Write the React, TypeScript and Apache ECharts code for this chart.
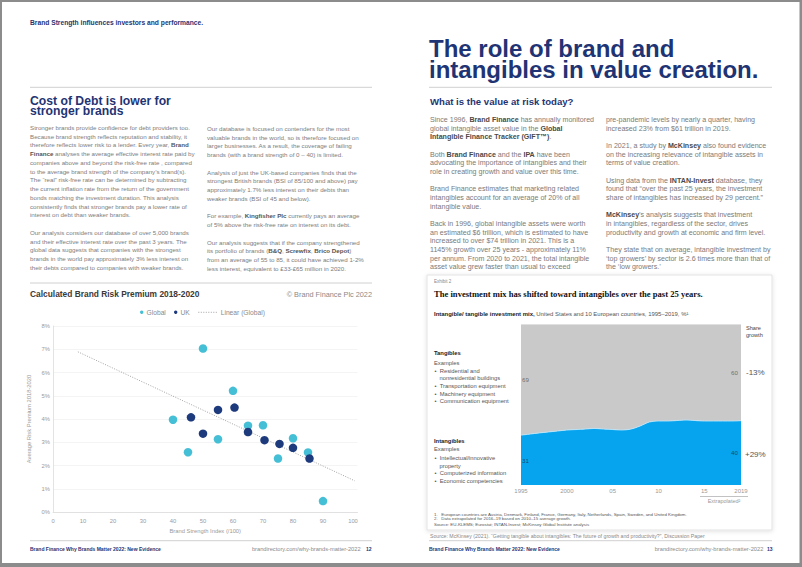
import React, { useEffect, useRef } from 'react';
import * as echarts from 'echarts';

const NAVY = '#1f3474';
const FONT = '"Liberation Sans", Arial, Helvetica, sans-serif';
const SERIF = '"Liberation Serif", "Times New Roman", serif';

// ---------- Scatter chart data (Calculated Brand Risk Premium 2018-2020) ----------
const globalPoints: number[][] = [
  [40, 3.97], [45, 2.57], [50, 7.03], [55, 3.13], [60, 5.21], [65, 3.71],
  [70, 3.73], [75, 2.3], [80, 3.17], [85, 2.56], [90, 0.47],
];
const ukPoints: number[][] = [
  [46, 4.07], [50, 3.37], [55, 4.39], [60.5, 4.49], [65, 3.44],
  [70.5, 3.09], [75.5, 2.93], [80, 2.76], [85.5, 2.3],
];
const trendEnds: number[][] = [[8.3, 6.89], [100.6, 1.34]];

// ---------- Area chart data (investment mix) ----------
const years = ['1995','1996','1997','1998','1999','2000','2001','2002','2003','2004','2005','2006','2007','2008','2009','2010','2011','2012','2013','2014','2015','2016','2017','2018','2019'];
const intangibleShare = [31, 31.7, 32.4, 33, 33.6, 34.2, 34.5, 34.8, 35.2, 34.8, 34.5, 34.2, 34.8, 36.7, 39.2, 39.8, 39.8, 40.1, 40.4, 40.1, 39.8, 39.8, 39.8, 39.8, 40];
const tangibleShare = [69, 68.3, 67.6, 67, 66.4, 65.8, 65.5, 65.2, 64.8, 65.2, 65.5, 65.8, 65.2, 63.3, 60.8, 60.2, 60.2, 59.9, 59.6, 59.9, 60.2, 60.2, 60.2, 60.2, 60];
const yearTickLabels: Record<string, string> = { '1995': '1995', '2000': '2000', '2005': '05', '2010': '10', '2015': '15', '2019': '2019' };
const endLabels = { tangibleStart: '69', tangibleEnd: '60', intangibleStart: '31', intangibleEnd: '40' };

// ---------- Text ----------
const leftCol1 = [
  'Stronger brands provide confidence for debt providers too.',
  'Because brand strength reflects reputation and stability, it',
  'therefore reflects lower risk to a lender. Every year, **Brand**',
  '**Finance** analyses the average effective interest rate paid by',
  'companies above and beyond the risk-free rate , compared',
  'to the average brand strength of the company’s brand(s).',
  'The “real” risk-free rate can be determined by subtracting',
  'the current inflation rate from the return of the government',
  'bonds matching the investment duration. This analysis',
  'consistently finds that stronger brands pay a lower rate of',
  'interest on debt than weaker brands.',
  '',
  'Our analysis considers our database of over 5,000 brands',
  'and their effective interest rate over the past 3 years. The',
  'global data suggests that companies with the strongest',
  'brands in the world pay approximately 3% less interest on',
  'their debts compared to companies with weaker brands.',
];
const leftCol2 = [
  'Our database is focused on contenders for the most',
  'valuable brands in the world, so is therefore focused on',
  'larger businesses. As a result, the coverage of failing',
  'brands (with a brand strength of 0 – 40) is limited.',
  '',
  'Analysis of just the UK-based companies finds that the',
  'strongest British brands (BSI of 85/100 and above) pay',
  'approximately 1.7% less interest on their debts than',
  'weaker brands (BSI of 45 and below).',
  '',
  'For example, **Kingfisher Plc** currently pays an average',
  'of 5% above the risk-free rate on interest on its debt.',
  '',
  'Our analysis suggests that if the company strengthened',
  'its portfolio of brands (**B&Q**, **Screwfix**, **Brico Depot**)',
  'from an average of 55 to 85, it could have achieved 1-2%',
  'less interest, equivalent to £33-£65 million in 2020.',
];
const rightCol1 = [
  'Since 1996, **Brand Finance** has annually monitored',
  'global intangible asset value in the **Global**',
  '**Intangible Finance Tracker (GIFT™)**.',
  '',
  'Both **Brand Finance** and the **IPA** have been',
  'advocating the importance of intangibles and their',
  'role in creating growth and value over this time.',
  '',
  'Brand Finance estimates that marketing related',
  'intangibles account for an average of 20% of all',
  'intangible value.',
  '',
  'Back in 1996, global intangible assets were worth',
  'an estimated $6 trillion, which is estimated to have',
  'increased to over $74 trillion in 2021. This is a',
  '1145% growth over 25 years - approximately 11%',
  'per annum. From 2020 to 2021, the total intangible',
  'asset value grew faster than usual to exceed',
];
const rightCol2 = [
  'pre-pandemic levels by nearly a quarter, having',
  'increased 23% from $61 trillion in 2019.',
  '',
  'In 2021, a study by **McKinsey** also found evidence',
  'on the increasing relevance of intangible assets in',
  'terms of value creation.',
  '',
  'Using data from the **INTAN-Invest** database, they',
  'found that “over the past 25 years, the investment',
  'share of intangibles has increased by 29 percent.”',
  '',
  '**McKinsey**’s analysis suggests that investment',
  'in intangibles, regardless of the sector, drives',
  'productivity and growth at economic and firm level.',
  '',
  'They state that on average, intangible investment by',
  '‘top growers’ by sector is 2.6 times more than that of',
  'the ‘low growers.’',
];
const tangibleExamples = ['Residential and', '  nonresidential buildings', 'Transportation equipment', 'Machinery equipment', 'Communication equipment'];
const intangibleExamples = ['Intellectual/innovative', '  property', 'Computerized information', 'Economic competencies'];

function rich(line: string) {
  return line.split('**').map((p, i) => (p ? `{${i % 2 ? 'b' : 'n'}|${p}}` : '')).join('');
}

function txt(x: number, y: number, text: string, o: any = {}) {
  return {
    type: 'text', x, y, z: 10, silent: true,
    style: {
      text,
      fill: o.color || '#777',
      fontSize: o.size || 6,
      fontFamily: o.family || FONT,
      fontWeight: o.weight || 'normal',
      fontStyle: o.style || 'normal',
      align: o.align || 'left', textAlign: o.align || 'left',
      verticalAlign: 'middle', textVerticalAlign: 'middle',
    },
  };
}

function para(lines: string[], x: number, y0: number, step: number, size: number, color: string, bold: string) {
  const out: any[] = [];
  lines.forEach((l, i) => {
    if (!l) return;
    out.push({
      type: 'text', x, y: y0 + i * step, z: 10, silent: true,
      style: {
        text: rich(l),
        align: 'left', textAlign: 'left', verticalAlign: 'middle', textVerticalAlign: 'middle',
        fontSize: size, fontFamily: FONT, fill: color,
        rich: {
          n: { fontSize: size, fontFamily: FONT, fill: color, color },
          b: { fontSize: size, fontFamily: FONT, fontWeight: 'bold', fill: bold, color: bold },
        },
      },
    });
  });
  return out;
}

function hline(x1: number, x2: number, y: number, color = '#d0d0d0', w = 1) {
  return { type: 'line', z: 5, silent: true, shape: { x1, y1: y, x2, y2: y }, style: { stroke: color, lineWidth: w } };
}

export default function App() {
  const ref = useRef<HTMLDivElement>(null);
  useEffect(() => {
    if (!ref.current) return;
    const chart = echarts.init(ref.current, undefined, { renderer: 'svg' });

    const GLOBAL = '#45bfd6';
    const UK = '#1d3a7c';
    const BLUE = '#06a4ee';
    const GREY = '#c9c9c9';

    const graphics: any[] = [
      { type: 'rect', z: -20, silent: true, shape: { x: 2, y: 2, width: 797.5, height: 561 }, style: { fill: '#ffffff' } },
      // Left page header
      txt(30, 22.7, 'Brand Strength influences investors and performance.', { size: 6.7, weight: 'bold', color: NAVY }),
      hline(30, 372, 87.3),
      txt(30, 100.8, 'Cost of Debt is lower for', { size: 12.2, weight: 'bold', color: NAVY }),
      txt(30, 110.8, 'stronger brands', { size: 12.2, weight: 'bold', color: NAVY }),
      ...para(leftCol1, 30, 127.3, 8.75, 6.2, '#7d7d7d', '#555'),
      ...para(leftCol2, 207, 128.3, 8.75, 6.2, '#7d7d7d', '#555'),
      hline(30, 372, 283),
      txt(30, 294, 'Calculated Brand Risk Premium 2018-2020', { size: 8.4, weight: 'bold', color: '#3a3a3a' }),
      txt(372, 294, '© Brand Finance Plc 2022', { size: 7.3, color: '#8a8a8a', align: 'right' }),
      // Scatter legend
      { type: 'circle', z: 10, silent: true, shape: { cx: 141.7, cy: 312.3, r: 1.7 }, style: { fill: GLOBAL } },
      txt(146.5, 312.3, 'Global', { size: 6.7, color: '#8a8a8a' }),
      { type: 'circle', z: 10, silent: true, shape: { cx: 175.7, cy: 312.3, r: 1.7 }, style: { fill: UK } },
      txt(180.5, 312.3, 'UK', { size: 6.7, color: '#8a8a8a' }),
      { type: 'line', z: 10, silent: true, shape: { x1: 198.3, y1: 312.3, x2: 218.3, y2: 312.3 }, style: { stroke: '#999', lineWidth: 0.9, lineDash: [1, 1.5] } },
      txt(220.7, 312.3, 'Linear (Global)', { size: 6.7, color: '#8a8a8a' }),
      hline(30, 372, 540.7),
      txt(30, 549.3, 'Brand Finance Why Brands Matter 2022: New Evidence', { size: 5, weight: 'bold', color: NAVY }),
      txt(360.6, 549.3, 'brandirectory.com/why-brands-matter-2022', { size: 5.7, color: '#8a8a8a', align: 'right' }),
      txt(366, 549.3, '12', { size: 5, weight: 'bold', color: NAVY }),

      // Right page
      txt(429, 48.6, 'The role of brand and', { size: 24, weight: 'bold', color: NAVY }),
      txt(429, 69.3, 'intangibles in value creation.', { size: 24, weight: 'bold', color: NAVY }),
      hline(429, 772, 87.3),
      txt(430, 101.7, 'What is the value at risk today?', { size: 9.6, weight: 'bold', color: NAVY }),
      ...para(rightCol1, 430, 120, 8.67, 7.1, '#7a7a7a', '#4a4a4a'),
      ...para(rightCol2, 606, 120, 8.67, 7.1, '#7a7a7a', '#4a4a4a'),

      // Exhibit box
      { type: 'rect', z: -5, silent: true, shape: { x: 427, y: 275, width: 345, height: 255 },
        style: { fill: '#fff', stroke: '#e3e3e3', lineWidth: 1, shadowBlur: 4, shadowColor: 'rgba(0,0,0,0.12)', shadowOffsetY: 1 } },
      txt(434, 281.3, 'Exhibit 2', { size: 4.5, color: '#888' }),
      txt(434, 294.3, 'The investment mix has shifted toward intangibles over the past 25 years.', { size: 8.6, weight: 'bold', color: '#111', family: SERIF }),
      {
        type: 'text', x: 434, y: 314.3, z: 10, silent: true,
        style: {
          text: '{b|Intangible/ tangible investment mix,}{n| United States and 10 European countries, 1995–2019, %¹}',
          align: 'left', textAlign: 'left', verticalAlign: 'middle', textVerticalAlign: 'middle',
          rich: {
            b: { fontSize: 5.95, fontFamily: FONT, fontWeight: 'bold', fill: '#222', color: '#222' },
            n: { fontSize: 5.95, fontFamily: FONT, fill: '#555', color: '#555' },
          },
        },
      },
      txt(746, 327.7, 'Share', { size: 5.6, color: '#444' }),
      txt(746, 334.5, 'growth', { size: 5.6, color: '#444' }),
      txt(746, 372.3, '-13%', { size: 8, color: '#555' }),
      txt(745, 454.3, '+29%', { size: 8, color: '#555' }),
      txt(434, 352.7, 'Tangibles', { size: 5.8, weight: 'bold', color: '#222' }),
      txt(434, 362.7, 'Examples', { size: 5.8, color: '#555' }),
      ...tangibleExamples.map((s, i) => txt(s.startsWith('  ') ? 439.5 : 434.5, 370.7 + i * 7.6, s.startsWith('  ') ? s.trim() : '•  ' + s, { size: 5.8, color: '#555' })),
      txt(434, 440.7, 'Intangibles', { size: 5.8, weight: 'bold', color: '#222' }),
      txt(434, 449.3, 'Examples', { size: 5.8, color: '#555' }),
      ...intangibleExamples.map((s, i) => txt(s.startsWith('  ') ? 439.5 : 434.5, 457.7 + i * 7.8, s.startsWith('  ') ? s.trim() : '•  ' + s, { size: 5.8, color: '#555' })),
      { type: 'line', z: 10, silent: true, shape: { x1: 700, y1: 496.5, x2: 748, y2: 496.5 }, style: { stroke: '#999', lineWidth: 0.6 } },
      txt(724, 501.3, 'Extrapolated²', { size: 5.5, color: '#999', align: 'center' }),
      txt(434, 514, '1.   European countries are Austria, Denmark, Finland, France, Germany, Italy, Netherlands, Spain, Sweden, and United Kingdom.', { size: 4.4, color: '#555' }),
      txt(434, 518.8, '2.   Data extrapolated for 2016–19 based on 2010–15 average growth.', { size: 4.4, color: '#555' }),
      txt(434, 524.6, 'Source: EU-KLEMS; Eurostat; INTAN-Invest; McKinsey Global Institute analysis', { size: 4.4, color: '#555' }),
      txt(430, 535.7, 'Source: McKinsey (2021). “Getting tangible about intangibles: The future of growth and productivity?”, Discussion Paper', { size: 5.2, color: '#888' }),
      hline(429, 772, 540.7),
      txt(429, 549.3, 'Brand Finance Why Brands Matter 2022: New Evidence', { size: 5, weight: 'bold', color: NAVY }),
      txt(763.3, 549.3, 'brandirectory.com/why-brands-matter-2022', { size: 5.7, color: '#8a8a8a', align: 'right' }),
      txt(767, 549.3, '13', { size: 5, weight: 'bold', color: NAVY }),
    ];

    const n = years.length - 1;
    const bandLabels = [
      { value: [years[0], (100 + intangibleShare[0]) / 2], name: endLabels.tangibleStart, label: { position: 'right', distance: 1 } },
      { value: [years[n], (100 + intangibleShare[n]) / 2], name: endLabels.tangibleEnd, label: { position: 'left', distance: 3 } },
      { value: [years[0], intangibleShare[0] / 2], name: endLabels.intangibleStart, label: { position: 'right', distance: 1, color: '#1c2f55' } },
      { value: [years[n], intangibleShare[n] / 2], name: endLabels.intangibleEnd, label: { position: 'left', distance: 3, color: '#1c2f55' } },
    ];

    const axisText = { color: '#9a9a9a', fontSize: 5.8, fontFamily: FONT };

    chart.setOption({
      animation: false,
      backgroundColor: '#8c8c8c',
      textStyle: { fontFamily: FONT },
      grid: [
        { left: 53, top: 326, width: 304.5, height: 186 },
        { left: 521, top: 324.3, width: 220, height: 160.7 },
      ],
      xAxis: [
        {
          gridIndex: 0, type: 'value', min: 0, max: 101.5, interval: 10,
          axisLine: { show: true, lineStyle: { color: '#dcdcdc', width: 0.8 } },
          axisTick: { show: false }, splitLine: { show: false },
          axisLabel: { ...axisText, margin: 6, formatter: (v: number) => (v > 100 ? '' : String(v)) },
          name: 'Brand Strength Index (/100)', nameLocation: 'middle', nameGap: 16,
          nameTextStyle: { ...axisText },
        },
        {
          gridIndex: 1, type: 'category', data: years, boundaryGap: false,
          axisLine: { show: false }, axisTick: { show: false }, splitLine: { show: false },
          axisLabel: { interval: 0, color: '#9a9a9a', fontSize: 6, fontFamily: FONT, margin: 3, formatter: (v: string) => yearTickLabels[v] ?? '' },
        },
      ],
      yAxis: [
        {
          gridIndex: 0, type: 'value', min: 0, max: 8, interval: 1,
          axisLine: { show: true, lineStyle: { color: '#dcdcdc', width: 0.8 } },
          axisTick: { show: false },
          splitLine: { show: true, lineStyle: { color: '#f1f1f1', width: 0.8 } },
          axisLabel: { ...axisText, margin: 3, formatter: '{value}%' },
          name: 'Average Risk Premium 2018-2020', nameLocation: 'middle', nameGap: 21, nameRotate: 90,
          nameTextStyle: { ...axisText },
        },
        { gridIndex: 1, type: 'value', min: 0, max: 100, show: false },
      ],
      series: [
        {
          name: 'Linear (Global)', type: 'line', xAxisIndex: 0, yAxisIndex: 0, data: trendEnds,
          showSymbol: false, symbol: 'none', z: 2,
          lineStyle: { color: '#9a9a9a', width: 0.9, type: [1, 1.5] },
        },
        {
          name: 'Global', type: 'scatter', xAxisIndex: 0, yAxisIndex: 0, data: globalPoints,
          symbolSize: 8.5, itemStyle: { color: GLOBAL, opacity: 1 }, z: 3,
        },
        {
          name: 'UK', type: 'scatter', xAxisIndex: 0, yAxisIndex: 0, data: ukPoints,
          symbolSize: 8.5, itemStyle: { color: UK, opacity: 1 }, z: 4,
        },
        {
          name: 'Intangibles', type: 'line', xAxisIndex: 1, yAxisIndex: 1, stack: 'mix', data: intangibleShare,
          smooth: 0.3, showSymbol: false, symbol: 'none',
          lineStyle: { color: '#bfe7fb', width: 0.8 }, areaStyle: { color: BLUE, opacity: 1 },
        },
        {
          name: 'Tangibles', type: 'line', xAxisIndex: 1, yAxisIndex: 1, stack: 'mix', data: tangibleShare,
          smooth: 0.3, showSymbol: false, symbol: 'none',
          lineStyle: { width: 0, opacity: 0 }, areaStyle: { color: GREY, opacity: 1 },
        },
        {
          name: 'Band labels', type: 'scatter', xAxisIndex: 1, yAxisIndex: 1, data: bandLabels,
          symbolSize: 0, silent: true, z: 6,
          label: { show: true, formatter: (p: any) => p.name, fontSize: 6.2, color: '#555', fontFamily: FONT },
        },
      ],
      graphic: { elements: graphics },
    });
    return () => chart.dispose();
  }, []);

  return <div ref={ref} style={{ position: 'absolute', left: 0, top: 0, width: 802, height: 567 }} />;
}
